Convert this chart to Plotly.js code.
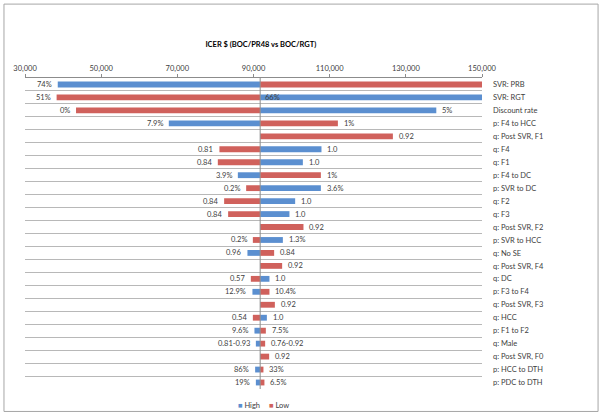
<!DOCTYPE html>
<html>
<head>
<meta charset="utf-8">
<script src="https://cdn.plot.ly/plotly-3.0.1.min.js"></script>
<style>
  html, body { margin: 0; padding: 0; background: #ffffff; }
  #chart { width: 605px; height: 415px; }
</style>
</head>
<body>
<div id="chart"></div>
<script>
// ---- Data ----
const categories = [
  "SVR: PRB", "SVR: RGT", "Discount rate", "p: F4 to HCC", "q: Post SVR, F1",
  "q: F4", "q: F1", "p: F4 to DC", "p: SVR to DC", "q: F2", "q: F3",
  "q: Post SVR, F2", "p: SVR to HCC", "q: No SE", "q: Post SVR, F4", "q: DC",
  "p: F3 to F4", "q: Post SVR, F3", "q: HCC", "p: F1 to F2", "q: Male",
  "q: Post SVR, F0", "p: HCC to DTH", "p: PDC to DTH"
];
const baseICER = 91750;
// ICER when parameter set to "High" value
const highICER = [
  38600, 150000, 138000, 67760, null,
  107850, 102960, 85890, 107690, 100940, 99440,
  null, 97710, 88410, null, 94190,
  89720, null, 93510, 90250, 90620,
  null, 90430, 90620
];
// ICER when parameter set to "Low" value
const lowICER = [
  150000, 38300, 43400, 112160, 126600,
  81050, 80630, 107690, 88070, 82290, 83340,
  103120, 89830, 95420, 97520, 89300,
  94190, 95610, 89830, 93240, 93060,
  94110, 92610, 92870
];
const highLabels = [
  "74%", "66%", "5%", "7.9%", "",
  "1.0", "1.0", "3.9%", "3.6%", "1.0", "1.0",
  "", "1.3%", "0.96", "", "1.0",
  "12.9%", "", "1.0", "9.6%", "0.81-0.93",
  "", "86%", "19%"
];
const lowLabels = [
  "", "51%", "0%", "1%", "0.92",
  "0.81", "0.84", "1%", "0.2%", "0.84", "0.84",
  "0.92", "0.2%", "0.84", "0.92", "0.57",
  "10.4%", "0.92", "0.54", "7.5%", "0.76-0.92",
  "0.92", "33%", "6.5%"
];
const xTicks = [30000, 50000, 70000, 90000, 110000, 130000, 150000];
const xMin = 30000, xMax = 150000;

const BLUE = "#5b8fd0";
const RED = "#d0615c";
const TXT = "#404040";
const FONT = "Lato, 'Open Sans', sans-serif";

function deltas(arr) {
  return arr.map(v => (v === null ? null : v - baseICER));
}

const traces = [
  {
    type: "bar", orientation: "h", name: "High",
    y: categories, x: deltas(highICER), base: baseICER,
    marker: { color: BLUE }, width: 0.45, hoverinfo: "skip", showlegend: false
  },
  {
    type: "bar", orientation: "h", name: "Low",
    y: categories, x: deltas(lowICER), base: baseICER,
    marker: { color: RED }, width: 0.45, hoverinfo: "skip", showlegend: false
  }
];

// data labels
const annotations = [];
function addLabels(values, labels) {
  values.forEach((v, i) => {
    const t = labels[i];
    if (v === null || !t) return;
    if (v >= xMax) {
      annotations.push({ x: baseICER, y: categories[i], xref: "x", yref: "y",
        text: t, showarrow: false, xanchor: "left", xshift: 3,
        font: { family: FONT, size: 7.5, color: TXT } });
      return;
    }
    const left = v < baseICER;
    annotations.push({ x: v, y: categories[i], xref: "x", yref: "y",
      text: t, showarrow: false, xanchor: left ? "right" : "left",
      xshift: left ? -4 : 4,
      font: { family: FONT, size: 7.5, color: TXT } });
  });
}
addLabels(highICER, highLabels);
addLabels(lowICER, lowLabels);

// legend (Excel-style compact)
annotations.push({ xref: "paper", yref: "paper", x: 0.462, y: -0.053,
  xanchor: "left", yanchor: "middle", showarrow: false,
  text: "<span style='color:" + BLUE + "'>■</span> High",
  font: { family: FONT, size: 7.5, color: TXT } });
annotations.push({ xref: "paper", yref: "paper", x: 0.53, y: -0.053,
  xanchor: "left", yanchor: "middle", showarrow: false,
  text: "<span style='color:" + RED + "'>■</span> Low",
  font: { family: FONT, size: 7.5, color: TXT } });

const layout = {
  width: 605, height: 415,
  margin: { l: 25, r: 123, t: 77.5, b: 25.5, pad: 0 },
  paper_bgcolor: "#ffffff", plot_bgcolor: "#ffffff",
  font: { family: FONT, size: 7.5, color: TXT },
  title: {
    text: "<b>ICER $ (BOC/PR48 vs BOC/RGT)</b>",
    font: { family: FONT, size: 7.5, color: "#000000" },
    xref: "paper", x: 0.516, xanchor: "center",
    yref: "container", y: 0.894, yanchor: "middle"
  },
  barmode: "overlay",
  xaxis: {
    side: "top", range: [xMin, xMax], tickvals: xTicks, tickformat: ",",
    ticks: "outside", ticklen: 3, tickcolor: "#8c8c8c",
    showline: true, linecolor: "#8c8c8c", linewidth: 1,
    showgrid: false, zeroline: false, fixedrange: true,
    tickfont: { family: FONT, size: 7.5, color: TXT }
  },
  yaxis: {
    type: "category", autorange: "reversed", side: "right",
    tickson: "boundaries", ticks: "", showgrid: true,
    gridcolor: "#b8b8b8", gridwidth: 1, showline: false, zeroline: false,
    ticklabelstandoff: 10, fixedrange: true,
    tickfont: { family: FONT, size: 7.5, color: TXT }
  },
  shapes: [
    { type: "line", xref: "x", yref: "paper", x0: baseICER, x1: baseICER,
      y0: 0, y1: 1, line: { color: "#8c8c8c", width: 1 } },
    { type: "rect", xref: "paper", yref: "paper",
      x0: -0.046, x1: 1.254, y0: -0.0722, y1: 1.2376,
      line: { color: "#a6a6a6", width: 1 }, fillcolor: "rgba(0,0,0,0)" }
  ],
  annotations: annotations,
  showlegend: false
};

Plotly.newPlot("chart", traces, layout, { displayModeBar: false, staticPlot: true });
</script>
</body>
</html>
